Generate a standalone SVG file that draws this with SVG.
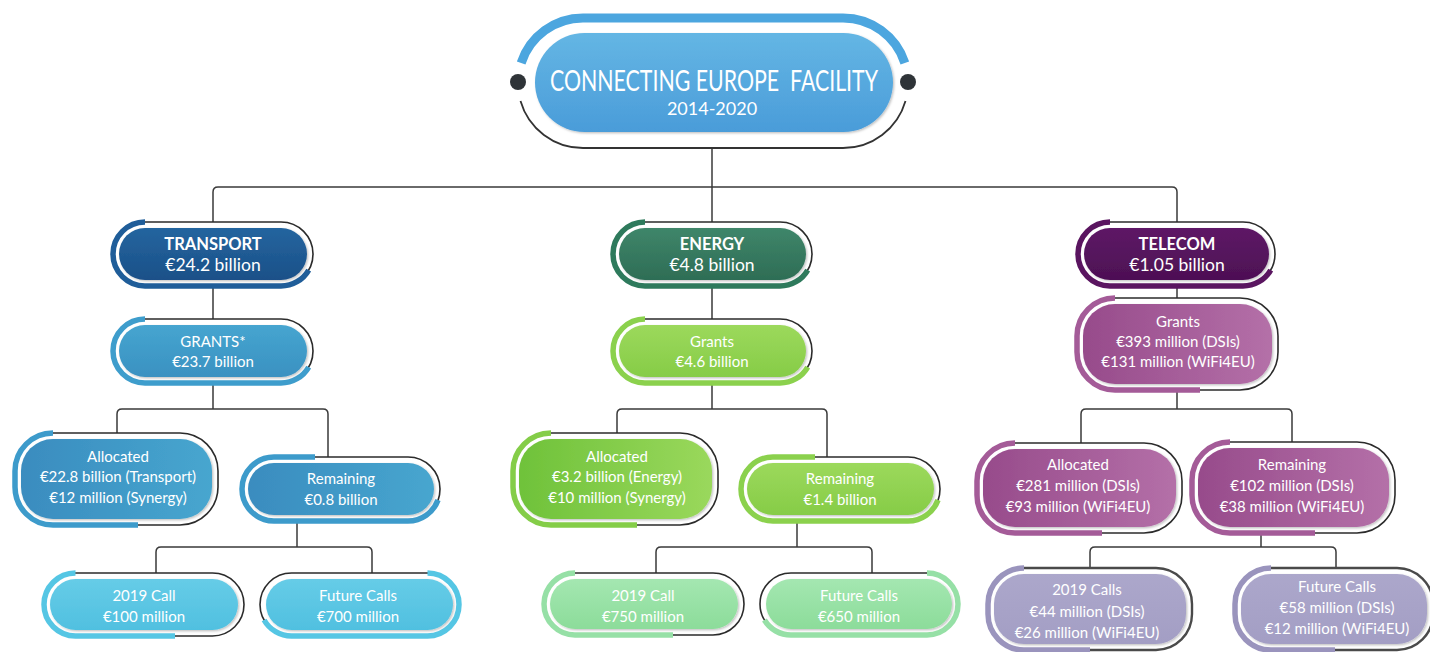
<svg xmlns="http://www.w3.org/2000/svg" width="1430" height="652" viewBox="0 0 1430 652">
<style>
.ol{fill:#fff;stroke:#2b2b2b;stroke-width:1.6}
.ol2{fill:#fff;stroke:#4a4a4a;stroke-width:2.4}
.ac{fill:none;stroke-width:5.5}
.t{font-family:Lato,"Liberation Sans",sans-serif;fill:#fff;text-anchor:middle;font-size:15px}
.t1{font-size:17.5px}
.b{font-weight:bold;font-size:16.5px}
.cn{fill:none;stroke:#3a3a3a;stroke-width:1.5}
.in{filter:url(#sh)}
</style>
<defs>
<filter id="sh" x="-5%" y="-10%" width="115%" height="130%"><feDropShadow dx="1.2" dy="1.2" stdDeviation="1" flood-color="#000" flood-opacity="0.25"/></filter>
<linearGradient id="gTitle" x1="0" y1="0" x2="0" y2="1"><stop offset="0" stop-color="#64b6e4"/><stop offset="1" stop-color="#4a9cd9"/></linearGradient>
<linearGradient id="gT1" x1="0" y1="0" x2="0" y2="1"><stop offset="0" stop-color="#24659f"/><stop offset="1" stop-color="#1b5088"/></linearGradient>
<linearGradient id="gT2" x1="0" y1="0" x2="0" y2="1"><stop offset="0" stop-color="#46a5d0"/><stop offset="1" stop-color="#3a91c1"/></linearGradient>
<linearGradient id="gT3" x1="0" y1="0" x2="1" y2="0"><stop offset="0" stop-color="#3a8cbf"/><stop offset="1" stop-color="#47a6cf"/></linearGradient>
<linearGradient id="gT5" x1="0" y1="0" x2="0" y2="1"><stop offset="0" stop-color="#66cce7"/><stop offset="1" stop-color="#50c0e0"/></linearGradient>
<linearGradient id="gE1" x1="0" y1="0" x2="0" y2="1"><stop offset="0" stop-color="#3f866a"/><stop offset="1" stop-color="#2e6d55"/></linearGradient>
<linearGradient id="gE2" x1="0" y1="0" x2="0" y2="1"><stop offset="0" stop-color="#9cd95c"/><stop offset="1" stop-color="#86cc47"/></linearGradient>
<linearGradient id="gE3" x1="0" y1="0" x2="1" y2="0"><stop offset="0" stop-color="#6fc23a"/><stop offset="1" stop-color="#9ad85c"/></linearGradient>
<linearGradient id="gE5" x1="0" y1="0" x2="0" y2="1"><stop offset="0" stop-color="#a4e7b1"/><stop offset="1" stop-color="#8cdc9a"/></linearGradient>
<linearGradient id="gC1" x1="0" y1="0" x2="0" y2="1"><stop offset="0" stop-color="#5e1866"/><stop offset="1" stop-color="#4d1054"/></linearGradient>
<linearGradient id="gC2" x1="0" y1="0" x2="1" y2="0"><stop offset="0" stop-color="#974b8b"/><stop offset="1" stop-color="#b470a8"/></linearGradient>
<linearGradient id="gC5" x1="0" y1="0" x2="0" y2="1"><stop offset="0" stop-color="#aca7cb"/><stop offset="1" stop-color="#a39ec4"/></linearGradient>
</defs>

<g id="connectors">
<path class="cn" d="M712,148 L712,222"/>
<path class="cn" d="M213,222 L213,192 Q213,187 218,187 L1172,187 Q1177,187 1177,192 L1177,222"/>
<path class="cn" d="M213,286 L213,319 M213,383 L213,409"/>
<path class="cn" d="M117,433 L117,414 Q117,409 122,409 L323,409 Q328,409 328,414 L328,457"/>
<path class="cn" d="M297,521 L297,547"/>
<path class="cn" d="M156,573 L156,552 Q156,547 161,547 L367,547 Q372,547 372,552 L372,573"/>
<path class="cn" d="M712,286 L712,319 M712,383 L712,409"/>
<path class="cn" d="M617,433 L617,414 Q617,409 622,409 L822,409 Q827,409 827,414 L827,457"/>
<path class="cn" d="M797,521 L797,547"/>
<path class="cn" d="M656,573 L656,552 Q656,547 661,547 L867,547 Q872,547 872,552 L872,573"/>
<path class="cn" d="M1177,286 L1177,298 M1177,390 L1177,409"/>
<path class="cn" d="M1081,443 L1081,414 Q1081,409 1086,409 L1287,409 Q1292,409 1292,414 L1292,442"/>
<path class="cn" d="M1261,533 L1261,547"/>
<path class="cn" d="M1090,568 L1090,552 Q1090,547 1095,547 L1331,547 Q1336,547 1336,552 L1336,568"/>
</g>

<g id="title">
<path d="M521.15,63 A65,65 0 0 1 583,18 L843,18 A65,65 0 0 1 904.85,63" fill="none" stroke="#4ca6df" stroke-width="9"/>
<path d="M520.5,101 A65,65 0 0 0 583,148 L843,148 A65,65 0 0 0 905.5,101" fill="none" stroke="#333" stroke-width="1.8"/>
<circle cx="518" cy="82" r="8" fill="#2f3438"/>
<circle cx="908" cy="82" r="8" fill="#2f3438"/>
<rect class="in" x="535" y="33" width="358" height="99" rx="49.5" fill="url(#gTitle)"/>
<text class="t" x="714" y="91" textLength="328" lengthAdjust="spacingAndGlyphs" xml:space="preserve" style="font-size:29px">CONNECTING EUROPE  FACILITY</text>
<text class="t" x="712" y="115" style="font-size:18px">2014-2020</text>
</g>

<g id="transport">
<rect class="ol" x="113" y="222" width="200" height="64" rx="32"/>
<rect class="in" x="119" y="228" width="188" height="52" rx="26" fill="url(#gT1)"/>
<path class="ac" stroke="#1f5d99" d="M145,222 A32,32 0 0 0 145,286 L281,286 A32,32 0 0 0 308.7,270"/>
<text class="t b" x="213" y="250">TRANSPORT</text>
<text class="t t1" x="213" y="271">€24.2 billion</text>
</g>

<g id="transport-grants">
<rect class="ol" x="113" y="319" width="200" height="64" rx="32"/>
<rect class="in" x="119" y="325" width="188" height="52" rx="26" fill="url(#gT2)"/>
<path class="ac" stroke="#3e9dcc" d="M145,319 A32,32 0 0 0 145,383 L281,383 A32,32 0 0 0 308.7,367"/>
<text class="t" x="213" y="347">GRANTS*</text>
<text class="t" x="213" y="367">€23.7 billion</text>
</g>

<g id="transport-allocated">
<rect class="ol" x="15" y="433" width="203" height="92" rx="38"/>
<rect class="in" x="21" y="439" width="191" height="80" rx="32" fill="url(#gT3)"/>
<path class="ac" stroke="#3d9bcb" d="M53,433 A38,38 0 0 0 15,471 L15,487 A38,38 0 0 0 53,525 L138,525"/>
<text class="t" x="118" y="462">Allocated</text>
<text class="t" x="118" y="482">€22.8 billion (Transport)</text>
<text class="t" x="118" y="503">€12 million (Synergy)</text>
</g>

<g id="transport-remaining">
<rect class="ol" x="242" y="457" width="198" height="64" rx="32"/>
<rect class="in" x="248" y="463" width="186" height="52" rx="26" fill="url(#gT3)"/>
<path class="ac" stroke="#3d9bcb" d="M315,457 L274,457 A32,32 0 0 0 274,521 L408,521 A32,32 0 0 0 438,500"/>
<text class="t" x="341" y="484">Remaining</text>
<text class="t" x="341" y="505">€0.8 billion</text>
</g>

<g id="transport-2019">
<rect class="ol" x="44" y="573" width="200" height="63" rx="31.5"/>
<rect class="in" x="50" y="579" width="188" height="51" rx="25.5" fill="url(#gT5)"/>
<path class="ac" stroke="#55c6e4" d="M75.5,573 A31.5,31.5 0 0 0 75.5,636 L175,636"/>
<text class="t" x="144" y="601">2019 Call</text>
<text class="t" x="144" y="622">€100 million</text>
</g>

<g id="transport-future">
<rect class="ol" x="260" y="573" width="199" height="63" rx="31.5"/>
<rect class="in" x="266" y="579" width="187" height="51" rx="25.5" fill="url(#gT5)"/>
<path class="ac" stroke="#55c6e4" d="M427.5,573 A31.5,31.5 0 0 1 427.5,636 L291.5,636 A31.5,31.5 0 0 1 264.1,620"/>
<text class="t" x="358" y="601">Future Calls</text>
<text class="t" x="358" y="622">€700 million</text>
</g>

<g id="energy">
<rect class="ol" x="613" y="222" width="199" height="64" rx="32"/>
<rect class="in" x="619" y="228" width="187" height="52" rx="26" fill="url(#gE1)"/>
<path class="ac" stroke="#2e7a5c" d="M645,222 A32,32 0 0 0 645,286 L780,286 A32,32 0 0 0 807.7,270"/>
<text class="t b" x="712" y="250">ENERGY</text>
<text class="t t1" x="712" y="271">€4.8 billion</text>
</g>

<g id="energy-grants">
<rect class="ol" x="613" y="319" width="199" height="64" rx="32"/>
<rect class="in" x="619" y="325" width="187" height="52" rx="26" fill="url(#gE2)"/>
<path class="ac" stroke="#8bd14d" d="M645,319 A32,32 0 0 0 645,383 L780,383 A32,32 0 0 0 807.7,367"/>
<text class="t" x="712" y="347">Grants</text>
<text class="t" x="712" y="367">€4.6 billion</text>
</g>

<g id="energy-allocated">
<rect class="ol" x="513" y="433" width="205" height="92" rx="38"/>
<rect class="in" x="519" y="439" width="193" height="80" rx="32" fill="url(#gE3)"/>
<path class="ac" stroke="#84cd48" d="M551,433 A38,38 0 0 0 513,471 L513,487 A38,38 0 0 0 551,525 L637,525"/>
<text class="t" x="617" y="462">Allocated</text>
<text class="t" x="617" y="482">€3.2 billion (Energy)</text>
<text class="t" x="617" y="503">€10 million (Synergy)</text>
</g>

<g id="energy-remaining">
<rect class="ol" x="741" y="457" width="199" height="64" rx="32"/>
<rect class="in" x="747" y="463" width="187" height="52" rx="26" fill="url(#gE2)"/>
<path class="ac" stroke="#8bd14d" d="M815,457 L773,457 A32,32 0 0 0 773,521 L908,521 A32,32 0 0 0 938,500"/>
<text class="t" x="840" y="484">Remaining</text>
<text class="t" x="840" y="505">€1.4 billion</text>
</g>

<g id="energy-2019">
<rect class="ol" x="544" y="573" width="200" height="62" rx="31"/>
<rect class="in" x="550" y="579" width="188" height="50" rx="25" fill="url(#gE5)"/>
<path class="ac" stroke="#96e0a6" d="M575,573 A31,31 0 0 0 575,635 L673,635"/>
<text class="t" x="643" y="601">2019 Call</text>
<text class="t" x="643" y="622">€750 million</text>
</g>

<g id="energy-future">
<rect class="ol" x="760" y="573" width="198" height="62" rx="31"/>
<rect class="in" x="766" y="579" width="186" height="50" rx="25" fill="url(#gE5)"/>
<path class="ac" stroke="#96e0a6" d="M927,573 A31,31 0 0 1 927,635 L791,635 A31,31 0 0 1 764.45,620"/>
<text class="t" x="859" y="601">Future Calls</text>
<text class="t" x="859" y="622">€650 million</text>
</g>

<g id="telecom">
<rect class="ol" x="1078" y="222" width="197" height="64" rx="32"/>
<rect class="in" x="1084" y="228" width="185" height="52" rx="26" fill="url(#gC1)"/>
<path class="ac" stroke="#5a1560" d="M1110,222 A32,32 0 0 0 1110,286 L1243,286 A32,32 0 0 0 1270.7,270"/>
<text class="t b" x="1177" y="250">TELECOM</text>
<text class="t t1" x="1177" y="271">€1.05 billion</text>
</g>

<g id="telecom-grants">
<rect class="ol" x="1077" y="298" width="201" height="92" rx="38"/>
<rect class="in" x="1083" y="304" width="189" height="80" rx="32" fill="url(#gC2)"/>
<path class="ac" stroke="#a45b98" d="M1115,298 A38,38 0 0 0 1077,336 L1077,352 A38,38 0 0 0 1115,390 L1200,390"/>
<text class="t" x="1178" y="327">Grants</text>
<text class="t" x="1178" y="347">€393 million (DSIs)</text>
<text class="t" x="1178" y="367">€131 million (WiFi4EU)</text>
</g>

<g id="telecom-allocated">
<rect class="ol" x="977" y="443" width="205" height="90" rx="38"/>
<rect class="in" x="983" y="449" width="193" height="78" rx="32" fill="url(#gC2)"/>
<path class="ac" stroke="#a45b98" d="M1015,443 A38,38 0 0 0 977,481 L977,495 A38,38 0 0 0 1015,533 L1102,533"/>
<text class="t" x="1078" y="470">Allocated</text>
<text class="t" x="1078" y="491">€281 million (DSIs)</text>
<text class="t" x="1078" y="512">€93 million (WiFi4EU)</text>
</g>

<g id="telecom-remaining">
<rect class="ol" x="1192" y="442" width="203" height="91" rx="38"/>
<rect class="in" x="1198" y="448" width="191" height="79" rx="32" fill="url(#gC2)"/>
<path class="ac" stroke="#a45b98" d="M1230,442 A38,38 0 0 0 1192,480 L1192,495 A38,38 0 0 0 1230,533 L1315,533"/>
<text class="t" x="1292" y="470">Remaining</text>
<text class="t" x="1292" y="491">€102 million (DSIs)</text>
<text class="t" x="1292" y="512">€38 million (WiFi4EU)</text>
</g>

<g id="telecom-2019">
<rect class="ol2" x="988" y="568" width="204" height="82" rx="36"/>
<rect class="in" x="994" y="574" width="192" height="70" rx="30" fill="url(#gC5)"/>
<path class="ac" stroke="#9a94bd" d="M1024,568 A36,36 0 0 0 988,604 L988,614 A36,36 0 0 0 1024,650 L1090,650"/>
<text class="t" x="1087" y="595">2019 Calls</text>
<text class="t" x="1087" y="617">€44 million (DSIs)</text>
<text class="t" x="1087" y="638">€26 million (WiFi4EU)</text>
</g>

<g id="telecom-future">
<rect class="ol2" x="1235" y="568" width="198" height="82" rx="36"/>
<rect class="in" x="1241" y="574" width="186" height="70" rx="30" fill="url(#gC5)"/>
<path class="ac" stroke="#9a94bd" d="M1271,568 A36,36 0 0 0 1235,604 L1235,614 A36,36 0 0 0 1271,650 L1335,650"/>
<text class="t" x="1337" y="592">Future Calls</text>
<text class="t" x="1337" y="613">€58 million (DSIs)</text>
<text class="t" x="1337" y="634">€12 million (WiFi4EU)</text>
</g>
</svg>
